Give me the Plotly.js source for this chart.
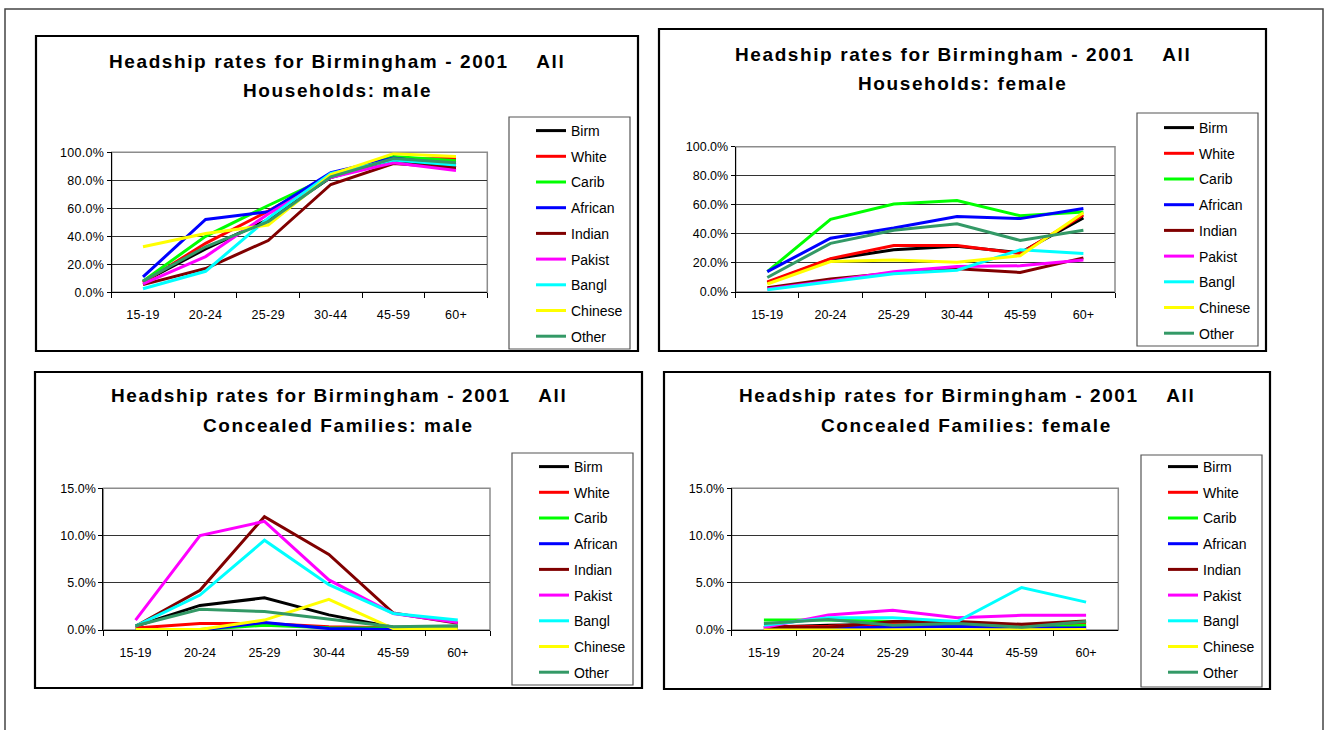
<!DOCTYPE html>
<html>
<head>
<meta charset="utf-8">
<script src="https://cdn.plot.ly/plotly-3.0.1.min.js"></script>
<style>
  html, body { margin: 0; padding: 0; background: #fff; }
  #chart { width: 1327px; height: 730px; }
  .annotation-text { letter-spacing: 1.6px; }
  .xtick text, .ytick text { letter-spacing: 0.3px; }
</style>
</head>
<body>
<div id="chart"></div>
<script>
// ---------------- DATA (values in percent) ----------------
const categories = ['15-19', '20-24', '25-29', '30-44', '45-59', '60+'];
const seriesNames = ['Birm', 'White', 'Carib', 'African', 'Indian', 'Pakist', 'Bangl', 'Chinese', 'Other'];

// All Households: male (rows follow seriesNames)
const householdsMale = [
  [7.5, 31, 52, 82, 94.5, 89],
  [7, 35, 58, 83, 95, 95.5],
  [8, 40, 62, 83, 97, 94],
  [11, 52, 57.5, 85.5, 96, 91],
  [5.5, 17, 37, 77, 92, 89],
  [6, 25.5, 56, 82, 92.5, 87],
  [2.5, 15, 53, 85, 94.5, 91],
  [32.5, 42, 48, 84, 99, 97],
  [8, 32.5, 50.5, 82.5, 95.5, 92.5]
];

// All Households: female
const householdsFemale = [
  [6.5, 22.5, 29, 31.5, 27, 51],
  [7, 23, 32, 32, 26.5, 53],
  [14, 50, 60.5, 63, 52.5, 55],
  [14, 37, 44, 52, 50.5, 57.5],
  [3, 9, 13, 16, 13.5, 23.5],
  [2, 7.5, 14, 17.5, 18, 22],
  [1.5, 7, 12.5, 15, 29, 26.5],
  [5.5, 21, 22, 20.5, 25, 54.5],
  [10, 33.5, 42.5, 47, 35.5, 42.5]
];

// All Concealed Families: male
const concealedMale = [
  [0.4, 2.6, 3.4, 1.6, 0.3, 0.35],
  [0.2, 0.7, 0.7, 0.35, 0.25, 0.25],
  [0, 0.05, 0.5, 0.25, 0.2, 0.2],
  [0, 0, 0.8, 0.15, 0.05, 0.1],
  [0.4, 4.2, 12, 8, 1.8, 0.7],
  [1.05, 10, 11.5, 5.3, 1.75, 0.8],
  [0.4, 3.7, 9.5, 4.8, 1.75, 1.05],
  [0.05, 0.05, 1.05, 3.25, 0.15, 0.1],
  [0.45, 2.2, 1.95, 1.15, 0.35, 0.45]
];

// All Concealed Families: female
const concealedFemale = [
  [0.3, 0.5, 0.6, 0.5, 0.3, 0.3],
  [0.3, 0.4, 0.7, 0.6, 0.4, 0.6],
  [1.05, 1.05, 0.9, 0.8, 0.2, 0.5],
  [0.1, 0.2, 0.3, 0.4, 0.2, 0.2],
  [0.3, 0.3, 0.9, 0.9, 0.6, 0.95],
  [0.25, 1.6, 2.1, 1.3, 1.55, 1.55],
  [0.5, 1.3, 1.3, 0.9, 4.5, 2.95],
  [0, 0, 0.05, 0.05, 0, 0.05],
  [0.7, 1.1, 0.5, 0.7, 0.3, 0.9]
];

const titleLine1 = 'Headship rates for Birmingham - 2001\u00a0\u00a0\u00a0\u00a0All';
const titleLine2 = ['Households: male', 'Households: female', 'Concealed Families: male', 'Concealed Families: female'];
const yMax = [100, 100, 15, 15];
const yStep = [20, 20, 5, 5];

// ---------------- STYLE / LAYOUT ----------------
const colors = ['#000000', '#FF0000', '#00FF00', '#0000FF', '#800000', '#FF00FF', '#00FFFF', '#FFFF00', '#339966'];
const W = 1327, H = 730;
const px = v => v / W;
const py = v => 1 - v / H;
const FONT = 'Liberation Sans, Arial, Helvetica, sans-serif';

const panels = [
  { data: householdsMale,   box: [36, 36, 638, 351],  plot: [111.7, 152.3, 487.3, 292.3], title: [337, 62, 91],   leg: [509, 117, 630, 349], legXY: [531, 115] },
  { data: householdsFemale, box: [659, 29, 1266, 351], plot: [735.7, 146.7, 1115, 292],   title: [962.5, 55, 84], leg: [1137, 113, 1258, 346], legXY: [1159, 112] },
  { data: concealedMale,    box: [35, 372, 642, 688], plot: [103.3, 488.3, 490, 630],     title: [338.5, 395, 425], leg: [512, 453, 633, 685], legXY: [534, 451] },
  { data: concealedFemale,  box: [664, 372, 1270, 689], plot: [731.7, 488.3, 1118.3, 630], title: [967, 395, 425], leg: [1141, 455, 1262, 687], legXY: [1163, 451] }
];

const traces = [];
const layout = {
  width: W, height: H,
  margin: { l: 0, r: 0, t: 0, b: 0 },
  paper_bgcolor: '#ffffff',
  plot_bgcolor: '#ffffff',
  font: { family: FONT, color: '#000000', size: 12 },
  hovermode: false,
  showlegend: true,
  annotations: [],
  shapes: []
};

// outer frame
layout.shapes.push({ type: 'rect', xref: 'paper', yref: 'paper', x0: px(5), x1: px(1323), y0: py(760), y1: py(9),
  line: { color: '#444', width: 1.5 }, fillcolor: 'rgba(0,0,0,0)' });

panels.forEach((p, i) => {
  const n = i === 0 ? '' : String(i + 1);
  const xa = 'x' + n, ya = 'y' + n;
  const legName = 'legend' + n;

  p.data.forEach((vals, s) => {
    traces.push({
      type: 'scatter', mode: 'lines',
      x: categories, y: vals,
      name: seriesNames[s],
      xaxis: xa, yaxis: ya,
      legend: legName,
      legendgroup: 'g' + i + '_' + s,
      line: { color: colors[s], width: 3 },
      hoverinfo: 'skip'
    });
  });

  layout['xaxis' + n] = {
    domain: [px(p.plot[0]), px(p.plot[2])],
    anchor: ya,
    type: 'category',
    range: [-0.5, categories.length - 0.5],
    showgrid: false, zeroline: false,
    showline: true, linecolor: '#000', linewidth: 1,
    ticks: 'outside', tickson: 'boundaries', ticklen: 5, tickcolor: '#000', tickwidth: 1,
    tickfont: { family: FONT, size: 12.5, color: '#000' },
    ticklabelstandoff: 11,
    fixedrange: true
  };
  layout['yaxis' + n] = {
    domain: [py(p.plot[3]), py(p.plot[1])],
    anchor: xa,
    range: [0, yMax[i]],
    dtick: yStep[i], tick0: 0,
    tickformat: '.1f', ticksuffix: '%',
    showgrid: true, gridcolor: '#333333', gridwidth: 1,
    zeroline: false,
    showline: true, linecolor: '#000', linewidth: 1,
    ticks: 'outside', ticklen: 4, tickcolor: '#000',
    tickfont: { family: FONT, size: 12.5, color: '#000' },
    fixedrange: true
  };

  layout[legName] = {
    x: px(p.legXY[0]), y: py(p.legXY[1]),
    xanchor: 'left', yanchor: 'top',
    bgcolor: 'rgba(0,0,0,0)', borderwidth: 0,
    font: { family: FONT, size: 14, color: '#000' },
    traceorder: 'grouped', tracegroupgap: 4.5,
    itemclick: false, itemdoubleclick: false
  };

  // plot-area border (grey)
  layout.shapes.push({ type: 'rect', xref: xa + ' domain', yref: ya + ' domain', x0: 0, x1: 1, y0: 0, y1: 1,
    line: { color: '#8c8c8c', width: 1.5 }, fillcolor: 'rgba(0,0,0,0)', layer: 'below' });
  // chart box
  layout.shapes.push({ type: 'rect', xref: 'paper', yref: 'paper',
    x0: px(p.box[0]), x1: px(p.box[2]), y0: py(p.box[3]), y1: py(p.box[1]),
    line: { color: '#000', width: 2.2 }, fillcolor: 'rgba(0,0,0,0)' });
  // legend box
  layout.shapes.push({ type: 'rect', xref: 'paper', yref: 'paper',
    x0: px(p.leg[0]), x1: px(p.leg[2]), y0: py(p.leg[3]), y1: py(p.leg[1]),
    line: { color: '#555', width: 1.2 }, fillcolor: 'rgba(0,0,0,0)' });

  // titles
  layout.annotations.push({ xref: 'paper', yref: 'paper', x: px(p.title[0]), y: py(p.title[1]),
    xanchor: 'center', yanchor: 'middle', showarrow: false, text: titleLine1,
    font: { family: FONT, size: 19, color: '#000', weight: 'bold' } });
  layout.annotations.push({ xref: 'paper', yref: 'paper', x: px(p.title[0]), y: py(p.title[2]),
    xanchor: 'center', yanchor: 'middle', showarrow: false, text: titleLine2[i],
    font: { family: FONT, size: 19, color: '#000', weight: 'bold' } });
});

Plotly.newPlot('chart', traces, layout, { displayModeBar: false, staticPlot: true });
</script>
</body>
</html>
